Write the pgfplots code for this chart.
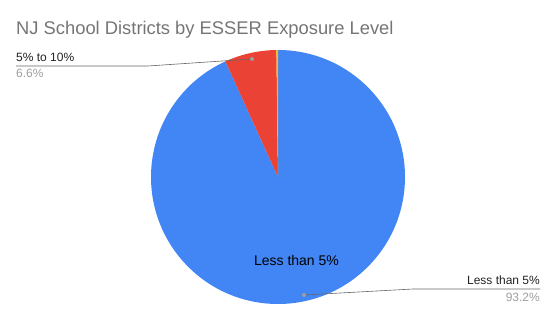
\documentclass[border=0pt]{standalone}
\usepackage{fontspec}
\setmainfont{Liberation Sans}
\usepackage{pgfplots}
\usepackage{pgfplotstable}
\pgfplotsset{compat=1.18}

\definecolor{sliceblue}{HTML}{4285F4}
\definecolor{slicered}{HTML}{EA4335}
\definecolor{sliceyellow}{HTML}{FBBC04}
\definecolor{titlegray}{HTML}{757575}
\definecolor{labelink}{HTML}{222222}
\definecolor{valuegray}{HTML}{9E9E9E}
\definecolor{leadergray}{HTML}{666666}

% share of districts (percent) per exposure level, clockwise from 12 o'clock
\pgfplotstableread{
share color
93.2  sliceblue
6.6   slicered
0.2   sliceyellow
}\pietable

\begin{document}
\begin{tikzpicture}
\useasboundingbox (0,0) rectangle (557pt,321pt);
\begin{axis}[
  x=1pt, y=1pt,
  xmin=0, xmax=557, ymin=0, ymax=321,
  scale only axis, hide axis, clip=false,
  anchor=origin, at={(0,0)},
]
\def\cx{278}\def\cy{144}\def\rad{127}
\gdef\startangle{90}
\pgfplotsforeachungrouped \i in {0,1,2} {
  \pgfplotstablegetelem{\i}{share}\of\pietable \let\share\pgfplotsretval
  \pgfplotstablegetelem{\i}{color}\of\pietable \let\col\pgfplotsretval
  \pgfmathsetmacro\endangle{\startangle - 3.6*\share}
  \edef\temp{\noexpand\fill[\col] (axis cs:\cx,\cy) -- ++(\startangle:\rad pt)
     arc[start angle=\startangle, end angle=\endangle, radius=\rad pt] -- cycle;}
  \temp
  \global\let\startangle\endangle
}

% title
\node[anchor=base west, inner sep=0, text=titlegray,
      font=\fontsize{18.35}{21}\selectfont] at (axis cs:16,286)
  {NJ School Districts by ESSER Exposure Level};

% label inside the large slice
\node[anchor=base, inner sep=0, text=black,
      font=\fontsize{14}{16}\selectfont] at (axis cs:296.5,55.5) {Less than 5\%};

% leader for 5% to 10%
\draw[leadergray, line width=0.6pt] (axis cs:252,262) -- (axis cs:148,255) -- (axis cs:16,255);
\fill[valuegray] (axis cs:252,262) circle[radius=2pt];
\node[anchor=base west, inner sep=0, text=labelink,
      font=\fontsize{12}{14}\selectfont] at (axis cs:16,259) {5\% to 10\%};
\node[anchor=base west, inner sep=0, text=valuegray,
      font=\fontsize{12}{14}\selectfont] at (axis cs:16,243) {6.6\%};

% leader for Less than 5%
\draw[leadergray, line width=0.6pt] (axis cs:304,26) -- (axis cs:413,32) -- (axis cs:540,32);
\fill[valuegray] (axis cs:304,26) circle[radius=2pt];
\node[anchor=base east, inner sep=0, text=labelink,
      font=\fontsize{12}{14}\selectfont] at (axis cs:540,36) {Less than 5\%};
\node[anchor=base east, inner sep=0, text=valuegray,
      font=\fontsize{12}{14}\selectfont] at (axis cs:540,19) {93.2\%};
\end{axis}
\end{tikzpicture}
\end{document}
